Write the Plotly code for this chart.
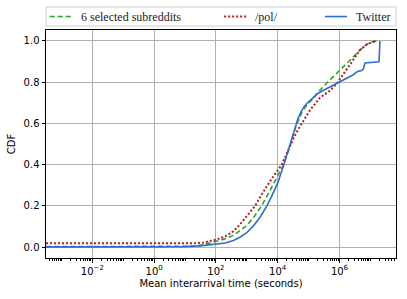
import plotly.graph_objects as go

# ---- data (x given as log10 of seconds) ----
subreddits_log_x = [-3.5, 1.3, 1.6, 2.03, 2.3, 2.57, 2.78, 3.0, 3.25, 3.48, 3.7, 3.95, 4.19, 4.4,
                    4.6, 4.8, 5.0, 5.1, 5.3, 5.59, 5.9, 6.13, 6.4, 6.67, 6.9, 7.1, 7.28]
subreddits_cdf = [0.002, 0.004, 0.012, 0.029, 0.04, 0.057, 0.08, 0.105, 0.15, 0.2, 0.26, 0.33, 0.4,
                  0.49, 0.59, 0.66, 0.70, 0.712, 0.75, 0.796, 0.84, 0.877, 0.915, 0.957, 0.985, 0.998, 1.0]

pol_log_x = [-3.5, 1.3, 1.6, 2.03, 2.3, 2.57, 2.78, 3.1, 3.27, 3.5, 3.8, 4.13, 4.35, 4.55, 4.78,
             5.05, 5.37, 5.7, 5.9, 6.24, 6.5, 6.67, 6.9, 7.2]
pol_cdf = [0.018, 0.018, 0.022, 0.037, 0.052, 0.077, 0.11, 0.166, 0.2, 0.26, 0.33, 0.4, 0.473,
           0.54, 0.6, 0.665, 0.725, 0.76, 0.79, 0.865, 0.925, 0.957, 0.985, 1.0]

twitter_log_x = [-3.5, 1.0, 1.5, 2.0, 2.3, 2.57, 2.8, 3.0, 3.2, 3.43, 3.65, 3.8, 4.0, 4.2, 4.4,
                 4.56, 4.65, 4.75, 4.85, 4.95, 5.05, 5.3, 5.5, 5.7, 5.9, 6.1, 6.3, 6.45, 6.52,
                 6.6, 6.72, 6.78, 6.8, 6.83, 7.28, 7.31]
twitter_cdf = [0.001, 0.002, 0.006, 0.013, 0.02, 0.032, 0.05, 0.07, 0.1, 0.145, 0.2, 0.245, 0.31,
               0.4, 0.5, 0.58, 0.62, 0.655, 0.68, 0.697, 0.712, 0.745, 0.762, 0.777, 0.793, 0.81,
               0.826, 0.836, 0.845, 0.853, 0.857, 0.866, 0.88, 0.893, 0.899, 1.0]

series_names = ["6 selected subreddits", "/pol/", "Twitter"]
major_exponents = [-2, 0, 2, 4, 6]
y_ticks = [0.0, 0.2, 0.4, 0.6, 0.8, 1.0]

GREEN = "#2ca02c"
RED = "#b21f1f"
BLUE = "#2f6ccb"

fig = go.Figure()
fig.add_trace(go.Scatter(x=[10 ** v for v in subreddits_log_x], y=subreddits_cdf, mode="lines",
                         name=series_names[0], line=dict(color=GREEN, width=1.6, dash="5px,3px"),
                         showlegend=False))
fig.add_trace(go.Scatter(x=[10 ** v for v in pol_log_x], y=pol_cdf, mode="lines",
                         name=series_names[1], line=dict(color=RED, width=2, dash="2px,2px"),
                         showlegend=False))
fig.add_trace(go.Scatter(x=[10 ** v for v in twitter_log_x], y=twitter_cdf, mode="lines",
                         name=series_names[2], line=dict(color=BLUE, width=1.6),
                         showlegend=False))

major_vals = [10.0 ** e for e in major_exponents]
major_text = ["10<sup>%s</sup>" % (str(e).replace("-", "−")) for e in major_exponents]
minor_vals = []
for e in range(-4, 8):
    for k in range(1, 10):
        if k == 1 and e in major_exponents:
            continue
        minor_vals.append(k * 10.0 ** e)

tickfont = dict(family="DejaVu Sans", size=10, color="#000")
fig.update_xaxes(type="log", range=[-3.5, 7.83], tickvals=major_vals, ticktext=major_text,
                 ticks="outside", ticklen=3.5, tickwidth=0.8, tickcolor="#000",
                 showgrid=True, gridcolor="#b0b0b0", gridwidth=0.8,
                 showline=True, linecolor="#000", linewidth=1, mirror=True,
                 zeroline=False, tickfont=tickfont, automargin=False,
                 minor=dict(tickvals=minor_vals, ticks="outside", ticklen=2, tickwidth=0.6,
                            tickcolor="#000", showgrid=False),
                 title=dict(text="Mean interarrival time (seconds)", font=tickfont, standoff=4))
fig.update_yaxes(range=[-0.053, 1.053], tickvals=y_ticks, ticktext=["%.1f" % v for v in y_ticks],
                 ticks="outside", ticklen=3.5, tickwidth=0.8, tickcolor="#000",
                 showgrid=True, gridcolor="#b0b0b0", gridwidth=0.8,
                 showline=True, linecolor="#000", linewidth=1, mirror=True,
                 zeroline=False, tickfont=tickfont, automargin=False,
                 title=dict(text="CDF", font=tickfont, standoff=6))

# legend box drawn above the plot area (matplotlib-style expanded legend)
shapes = [dict(type="rect", xref="paper", yref="paper", x0=0, x1=1, y0=1.0175, y1=1.101,
               line=dict(color="#cccccc", width=1), fillcolor="white")]
legend_specs = [(GREEN, "5px,3px", 1.6, 0.011, series_names[0]),
                (RED, "2px,2px", 2, 0.509, series_names[1]),
                (BLUE, "solid", 1.6, 0.797, series_names[2])]
annotations = []
for color, dash, w, x0, label in legend_specs:
    shapes.append(dict(type="line", xref="paper", yref="paper", x0=x0, x1=x0 + 0.063,
                       y0=1.059, y1=1.059, line=dict(color=color, width=w, dash=dash)))
    annotations.append(dict(text=label, xref="paper", yref="paper", x=x0 + 0.083, y=1.059,
                            xanchor="left", yanchor="middle", showarrow=False,
                            font=dict(family="Liberation Serif", size=12, color="#222")))

fig.update_layout(width=407, height=299, margin=dict(l=46, r=11, t=30, b=41),
                  paper_bgcolor="white", plot_bgcolor="white",
                  shapes=shapes, annotations=annotations)

fig.write_html("out.html", config={"displayModeBar": False},
               post_script="document.body.style.margin='0';")
